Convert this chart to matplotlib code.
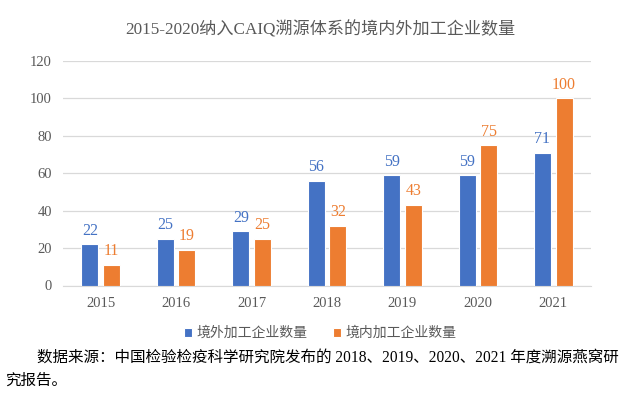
import numpy as np
import matplotlib.pyplot as plt

years = ["2015", "2016", "2017", "2018", "2019", "2020", "2021"]
overseas = [22, 25, 29, 56, 59, 59, 71]
domestic = [11, 19, 25, 32, 43, 75, 100]
series_names = ["境外加工企业数量", "境内加工企业数量"]
title = "2015-2020纳入CAIQ溯源体系的境内外加工企业数量"
source_line1 = "数据来源：中国检验检疫科学研究院发布的 2018、2019、2020、2021 年度溯源燕窝研"
source_line2 = "究报告。"

blue = "#4472C4"
orange = "#ED7D31"
gray = "#595959"
serif_cjk = ["Liberation Serif", "Noto Sans CJK SC"]
sans_cjk = ["Noto Sans CJK SC", "DejaVu Sans"]

fig = plt.figure(figsize=(6.4, 3.98), dpi=100)
ax = fig.add_axes([63 / 640, 1 - 285.5 / 398, 528 / 640, 224.5 / 398])

x = np.arange(len(years))
w = 0.225
off = 0.143
b1 = ax.bar(x - off, overseas, w, color=blue, edgecolor="white", linewidth=0.8,
            label=series_names[0], zorder=3)
b2 = ax.bar(x + off, domestic, w, color=orange, edgecolor="white", linewidth=0.8,
            label=series_names[1], zorder=3)

for bars, vals, c in [(b1, overseas, blue), (b2, domestic, orange)]:
    for r, v in zip(bars, vals):
        ax.annotate(str(v), (r.get_x() + r.get_width() / 2, v), xytext=(0, 4),
                    textcoords="offset points", ha="center", va="bottom",
                    color=c, fontsize=11.5, family=serif_cjk)

ax.set_xlim(-0.5, len(years) - 0.5)
ax.set_ylim(0, 120)
ax.set_yticks(range(0, 121, 20))
ax.set_xticks(x)
ax.set_xticklabels(years)
ax.grid(axis="y", color="#D9D9D9", linewidth=0.9, zorder=0)
for s in ["top", "right", "left"]:
    ax.spines[s].set_visible(False)
ax.spines["bottom"].set_color("#D9D9D9")
ax.tick_params(length=0, colors=gray, labelsize=10.5, pad=8)
for lab in ax.get_xticklabels() + ax.get_yticklabels():
    lab.set_family(serif_cjk)

fig.text(0.5, 1 - 30 / 398, title, ha="center", va="center", fontsize=12.3,
         color=gray, family=serif_cjk)

fig.legend(handles=[b1, b2], loc="center", bbox_to_anchor=(0.5, 1 - 333 / 398),
           ncol=2, frameon=False, handlelength=0.6, handleheight=0.6,
           handletextpad=0.3, columnspacing=1.8, labelcolor=gray,
           prop={"family": sans_cjk, "size": 10})

fig.text(37 / 640, 1 - 358 / 398, source_line1, ha="left", va="center",
         fontsize=11.2, color="black", family=serif_cjk)
fig.text(5 / 640, 1 - 381 / 398, source_line2, ha="left", va="center",
         fontsize=11.2, color="black", family=serif_cjk)

fig.savefig("out.png", dpi=100)
